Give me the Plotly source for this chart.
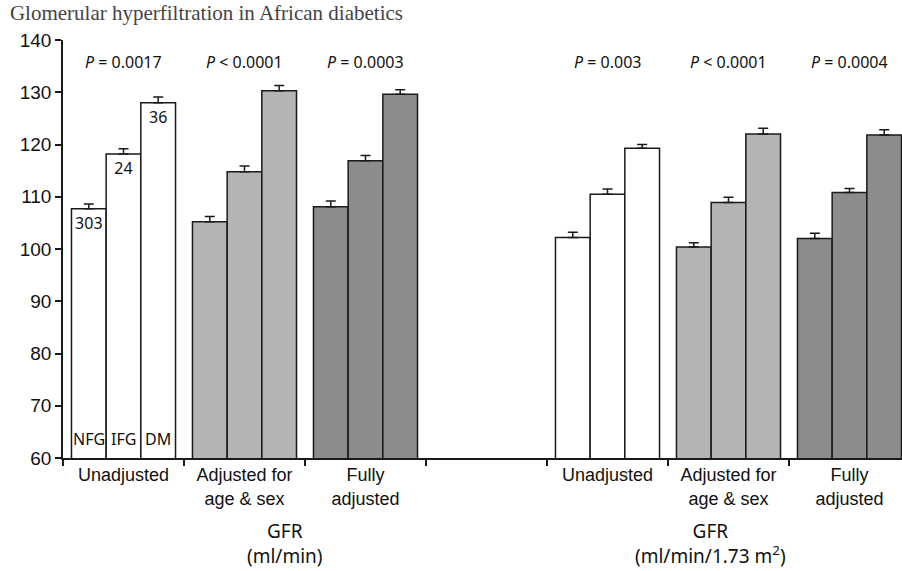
import plotly.graph_objects as go

# ---- data ----
group_labels = ["Unadjusted", "Adjusted for<br>age & sex", "Fully<br>adjusted",
                "Unadjusted", "Adjusted for<br>age & sex", "Fully<br>adjusted"]
group_pos = [0, 1, 2, 4, 5, 6]
group_colors = ["#ffffff", "#b4b4b4", "#8c8c8c", "#ffffff", "#b4b4b4", "#8c8c8c"]

series_names = ["NFG", "IFG", "DM"]
nfg_vals = [107.7, 105.2, 108.1, 102.2, 100.4, 102.0]
ifg_vals = [118.2, 114.8, 116.9, 110.5, 108.9, 110.8]
dm_vals = [128.0, 130.3, 129.6, 119.3, 122.0, 121.8]
nfg_err = [0.9, 1.0, 1.1, 1.0, 0.8, 1.0]
ifg_err = [1.0, 1.1, 1.0, 1.0, 1.0, 0.8]
dm_err = [1.1, 1.0, 0.9, 0.7, 1.1, 1.0]
n_counts = ["303", "24", "36"]

p_values = ["<i>P</i> = 0.0017", "<i>P</i> < 0.0001", "<i>P</i> = 0.0003",
            "<i>P</i> = 0.003", "<i>P</i> < 0.0001", "<i>P</i> = 0.0004"]

y_ticks = [60, 70, 80, 90, 100, 110, 120, 130, 140]

title_text = "Glomerular hyperfiltration in African diabetics"
gfr_labels = ["GFR<br>(ml/min)", "GFR<br>(ml/min/1.73 m<sup>2</sup>)"]

values = [nfg_vals, ifg_vals, dm_vals]
errors = [nfg_err, ifg_err, dm_err]

MYRIAD = "Noto Sans, Open Sans, sans-serif"
ARIAL = "Liberation Sans, Arial, sans-serif"

fig = go.Figure()
for i, name in enumerate(series_names):
    texts = [n_counts[i]] + [""] * (len(group_pos) - 1)
    fig.add_trace(go.Bar(
        name=name,
        x=group_pos,
        y=values[i],
        marker=dict(color=group_colors, line=dict(color="#1a1a1a", width=1.5)),
        error_y=dict(type="data", symmetric=False, array=errors[i],
                     arrayminus=[0] * len(group_pos), color="#1a1a1a",
                     thickness=1.5, width=5),
        text=texts,
        textposition="inside",
        insidetextanchor="end",
        textangle=0,
        constraintext="none",
        textfont=dict(family=MYRIAD, size=16, color="#111111"),
        showlegend=False,
        hoverinfo="skip",
    ))

annotations = []
# P-values above each group
for gx, pv in zip(group_pos, p_values):
    annotations.append(dict(x=gx, y=135.8, xref="x", yref="y", text=pv,
                            showarrow=False,
                            font=dict(family=MYRIAD, size=16, color="#111111")))

# series labels at bottom of first group bars
bar_w = 0.86 / 3
for i, name in enumerate(series_names):
    annotations.append(dict(x=group_pos[0] + (i - 1) * bar_w, y=63.6, xref="x", yref="y",
                            text=name, showarrow=False,
                            font=dict(family=MYRIAD, size=16, color="#111111")))

# GFR axis group labels
annotations.append(dict(x=1.335, y=-0.139, xref="x", yref="paper", text=gfr_labels[0],
                        showarrow=False, yanchor="top",
                        font=dict(family=MYRIAD, size=19, color="#111111")))
annotations.append(dict(x=4.85, y=-0.139, xref="x", yref="paper", text=gfr_labels[1],
                        showarrow=False, yanchor="top",
                        font=dict(family=MYRIAD, size=19, color="#111111")))

fig.update_layout(
    width=902, height=571,
    margin=dict(l=63, r=0, t=40, b=113),
    paper_bgcolor="white", plot_bgcolor="white",
    barmode="group", bargap=0.14, bargroupgap=0,
    title=dict(text=title_text, x=0.011, xanchor="left", y=0.977, yanchor="middle",
               font=dict(family="Liberation Serif, Times New Roman, serif", size=21,
                         color="#444444")),
    annotations=annotations,
    xaxis=dict(
        range=[-0.5, -0.5 + 839 / 121],
        tickmode="array", tickvals=group_pos, ticktext=group_labels,
        ticks="", showgrid=False, zeroline=False,
        showline=True, linecolor="#1a1a1a", linewidth=1.5,
        tickfont=dict(family=ARIAL, size=18, color="#111111"),
        minor=dict(tickmode="array", tickvals=[k - 0.5 for k in range(8)],
                   ticks="outside", ticklen=6, tickcolor="#1a1a1a", tickwidth=1.5,
                   showgrid=False),
        fixedrange=True,
    ),
    yaxis=dict(
        range=[60, 140], tickmode="array", tickvals=y_ticks,
        ticks="outside", ticklen=6, tickcolor="#1a1a1a", tickwidth=1.5,
        showgrid=False, zeroline=False,
        showline=True, linecolor="#1a1a1a", linewidth=1.5,
        tickfont=dict(family=ARIAL, size=19, color="#111111"),
        fixedrange=True,
    ),
)

fig.write_html("out.html",
               config={"displayModeBar": False},
               post_script="document.body.style.margin='0';document.body.style.overflow='hidden';")
